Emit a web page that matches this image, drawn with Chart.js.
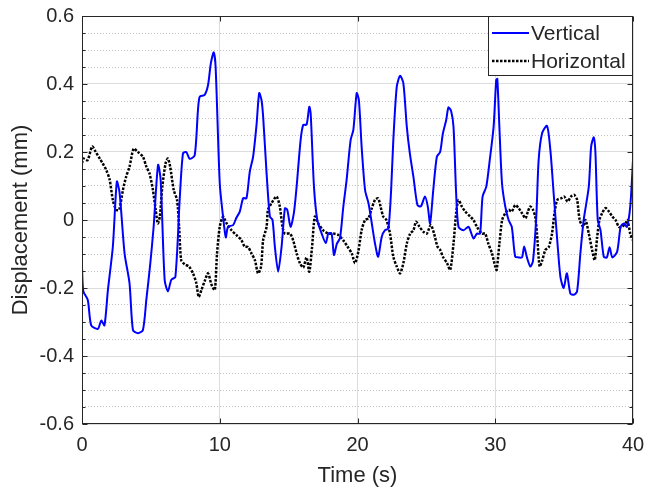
<!DOCTYPE html>
<html>
<head>
<meta charset="utf-8">
<script src="https://cdn.jsdelivr.net/npm/chart.js@4.4.1/dist/chart.umd.min.js"></script>
<style>
  body { margin: 0; background: #fff; }
  #myChart { display: block; }
</style>
</head>
<body>
<canvas id="myChart" width="648" height="492"></canvas>
<script>
//Series values (time in s, displacement in mm)
const vertTime = [0,0.1,0.42,0.67,1.15,1.4,1.63,1.88,2.24,2.53,2.73,3.09,3.45,3.7,4.06,4.42,4.67,4.96,5.2,5.52,5.71,6.0,6.24,6.48,6.78,7.09,7.33,7.57,7.82,8.18,8.42,8.55,8.9,9.15,9.35,9.56,9.7,10.0,10.24,10.44,10.6,10.97,11.2,11.45,11.7,11.94,12.18,12.42,12.67,12.86,13.03,13.15,13.4,13.64,13.83,14.0,14.24,14.49,14.73,14.9,15.14,15.38,15.58,15.87,16.06,16.3,16.5,16.6,16.84,17.08,17.4,17.7,17.88,18.12,18.29,18.5,18.73,18.97,19.21,19.5,19.7,19.94,20.1,20.3,20.55,20.8,21.0,21.27,21.5,21.76,22.0,22.24,22.44,22.6,22.85,23.09,23.33,23.58,23.8,24.06,24.35,24.6,24.9,25.1,25.27,25.5,25.76,26.0,26.2,26.44,26.6,26.8,26.97,27.16,27.33,27.7,28.06,28.42,28.67,28.9,29.08,29.35,29.6,29.88,30.07,30.15,30.3,30.49,30.73,30.97,31.2,31.45,31.7,31.94,32.1,32.3,32.55,32.74,32.98,33.15,33.4,33.76,34.0,34.24,34.5,34.73,34.97,35.2,35.45,35.7,35.94,36.18,36.42,36.79,36.96,37.15,37.27,37.44,37.64,37.88,38.1,38.3,38.5,38.85,39.1,39.33,39.56,39.8,40.0];
const vertDisp = [-0.14,-0.21,-0.235,-0.31,-0.32,-0.296,-0.31,-0.206,-0.078,0.113,0.08,-0.098,-0.186,-0.324,-0.333,-0.324,-0.235,-0.127,-0.02,0.162,0.118,-0.176,-0.21,-0.176,-0.167,0.059,0.196,0.2,0.18,0.19,0.324,0.363,0.368,0.397,0.46,0.493,0.45,0.108,0.01,-0.051,-0.02,-0.015,0.006,0.024,0.064,0.064,0.142,0.186,0.28,0.373,0.353,0.304,0.137,0.01,0.0,-0.078,-0.152,-0.078,0.034,0.03,-0.02,0.02,0.098,0.235,0.28,0.28,0.333,0.314,0.098,0.0,-0.04,-0.068,-0.04,-0.04,-0.103,-0.07,-0.053,0.039,0.118,0.235,0.265,0.373,0.353,0.216,0.088,0.049,0.0,-0.069,-0.108,-0.049,-0.03,-0.025,0.088,0.235,0.392,0.424,0.402,0.274,0.196,0.127,0.044,0.04,0.069,0.04,-0.01,0.088,0.186,0.2,0.255,0.294,0.331,0.32,0.274,0.079,-0.02,-0.03,-0.02,-0.054,-0.04,-0.04,0.069,0.098,0.176,0.274,0.412,0.415,0.274,0.108,0.039,0.0,-0.02,-0.108,-0.11,-0.11,-0.078,-0.11,-0.137,-0.12,0.01,0.176,0.255,0.277,0.206,0.078,-0.059,-0.167,-0.2,-0.157,-0.216,-0.22,-0.21,-0.098,0.0,0.098,0.216,0.243,0.2,0.0,-0.03,-0.108,-0.11,-0.08,-0.11,-0.093,-0.02,-0.01,-0.02,0.04,0.176];

const horizTime = [0,0.1,0.4,0.74,1.0,1.3,1.5,1.76,2.0,2.24,2.48,2.7,2.97,3.2,3.45,3.75,4.06,4.42,4.67,4.9,5.15,5.35,5.5,5.65,5.83,6.07,6.24,6.4,6.66,6.9,7.05,7.2,7.45,7.77,8.06,8.3,8.47,8.67,8.9,9.15,9.4,9.64,9.8,10.0,10.24,10.5,10.85,11.2,11.57,11.8,12.06,12.3,12.55,12.78,13.0,13.15,13.4,13.5,13.75,14.12,14.36,14.55,14.73,15.1,15.33,15.58,15.82,16.06,16.3,16.5,16.7,16.9,17.15,17.5,17.88,18.24,18.6,18.97,19.27,19.58,19.82,20.06,20.3,20.55,20.8,21.0,21.27,21.5,21.67,21.87,22.1,22.36,22.6,22.85,23.09,23.33,23.58,23.82,24.06,24.25,24.5,24.79,25.03,25.32,25.56,25.8,26.0,26.2,26.5,26.73,26.97,27.16,27.33,27.57,27.82,28.18,28.42,28.67,29.03,29.27,29.5,29.76,30.0,30.1,30.3,30.5,30.73,30.97,31.2,31.45,31.7,31.94,32.2,32.37,32.55,32.74,32.9,33.03,33.22,33.4,33.64,33.88,34.12,34.3,34.5,34.8,35.0,35.25,35.5,35.73,35.94,36.13,36.38,36.55,36.79,37.03,37.22,37.4,37.56,37.76,38.0,38.25,38.5,38.73,38.97,39.2,39.45,39.6,39.8,40.0];
const horizDisp = [0.167,0.181,0.176,0.216,0.2,0.18,0.167,0.147,0.12,0.059,0.03,0.03,0.088,0.127,0.157,0.21,0.2,0.186,0.157,0.137,0.088,0.03,-0.01,0.01,0.098,0.167,0.181,0.157,0.088,0.059,-0.02,-0.118,-0.13,-0.137,-0.157,-0.186,-0.226,-0.206,-0.18,-0.157,-0.19,-0.206,-0.1,-0.02,0.01,-0.01,-0.03,-0.044,-0.059,-0.078,-0.08,-0.098,-0.118,-0.157,-0.137,-0.059,-0.02,0.03,0.049,0.069,0.04,-0.02,-0.04,-0.04,-0.06,-0.098,-0.127,-0.14,-0.11,-0.152,-0.08,0.01,-0.01,-0.03,-0.04,-0.04,-0.044,-0.06,-0.078,-0.098,-0.127,-0.093,-0.03,0.0,0.005,0.03,0.059,0.064,0.04,0.01,0.0,-0.04,-0.108,-0.137,-0.157,-0.127,-0.069,-0.04,-0.03,-0.005,-0.02,-0.035,-0.04,-0.015,-0.04,-0.078,-0.088,-0.108,-0.127,-0.147,-0.069,0.02,0.059,0.04,0.025,0.01,0.0,-0.02,-0.04,-0.04,-0.07,-0.098,-0.137,-0.147,-0.07,0.0,0.02,0.03,0.025,0.044,0.035,0.02,0.005,0.025,0.04,0.03,0.01,-0.04,-0.137,-0.12,-0.088,-0.08,-0.04,0.02,0.059,0.064,0.069,0.054,0.069,0.074,0.06,0.0,-0.02,0.0,-0.04,-0.088,-0.118,-0.05,0.0,0.02,0.035,0.025,0.01,0.0,-0.02,-0.02,-0.01,0.0,-0.04,-0.06];

//Axis settings
const xTicks = [0, 10, 20, 30, 40];
const yTicks = [-0.6, -0.4, -0.2, 0, 0.2, 0.4, 0.6];
const seriesNames = ["Vertical", "Horizontal"];

const axisColor = "#262626";
const fontFamily = "'Liberation Sans', Arial, Helvetica, sans-serif";

const toPoints = function(xs, ys) {
  const pts = [];
  for (let i = 0; i < xs.length; i++) {
    pts.push({x: xs[i], y: ys[i]});
  }
  return pts;
};

const isMajor = function(v) {
  return Math.abs(v / 0.2 - Math.round(v / 0.2)) < 1e-6;
};

//Box round the plot area, inward ticks and the MATLAB style legend inside it
const boxPlugin = {
  id: "boxPlugin",
  afterDraw(chart) {
    const {ctx, chartArea} = chart;
    const a = chartArea;
    const L = Math.round(a.left) + 0.5, R = Math.round(a.right) - 0.5;
    const T = Math.round(a.top) + 0.5, B = Math.round(a.bottom) - 0.5;
    ctx.save();
    ctx.strokeStyle = axisColor;
    ctx.lineWidth = 1;
    ctx.strokeRect(L, T, R - L, B - T);

    //inward tick marks
    ctx.beginPath();
    chart.scales.yMinor.ticks.forEach(t => {
      const py = Math.round(chart.scales.yMinor.getPixelForValue(t.value)) + 0.5;
      const len = isMajor(t.value) ? 5 : 3;
      ctx.moveTo(L, py); ctx.lineTo(L + len, py);
      ctx.moveTo(R, py); ctx.lineTo(R - len, py);
    });
    chart.scales.x.ticks.forEach(t => {
      const px = Math.round(chart.scales.x.getPixelForValue(t.value)) + 0.5;
      ctx.moveTo(px, B); ctx.lineTo(px, B - 5);
      ctx.moveTo(px, T); ctx.lineTo(px, T + 5);
    });
    ctx.stroke();

    //legend
    const lx = 488, ly = Math.round(a.top), lw = Math.round(a.right) - lx - 1, lh = 59;
    ctx.fillStyle = "#fff";
    ctx.fillRect(lx, ly, lw, lh);
    ctx.strokeRect(lx + 0.5, ly + 0.5, lw, lh);
    ctx.font = "21px " + fontFamily;
    ctx.textBaseline = "middle";
    chart.data.datasets.forEach((ds, i) => {
      const yy = ly + 17 + i * 28;
      ctx.beginPath();
      ctx.strokeStyle = ds.borderColor;
      ctx.lineWidth = ds.borderWidth;
      ctx.setLineDash(ds.borderDash || []);
      ctx.moveTo(lx + 4, yy);
      ctx.lineTo(lx + 41, yy);
      ctx.stroke();
      ctx.setLineDash([]);
      ctx.fillStyle = axisColor;
      ctx.fillText(ds.label, lx + 43, yy + 1);
    });
    ctx.restore();
  }
};

const ctx = document.getElementById("myChart");
const myChart = new Chart(ctx, {
  type: "line",
  data: {
    datasets: [
      {
        label: seriesNames[0],
        data: toPoints(vertTime, vertDisp),
        borderColor: "#0000ff",
        borderWidth: 2,
        pointRadius: 0,
        fill: false,
        tension: 0.25
      },
      {
        label: seriesNames[1],
        data: toPoints(horizTime, horizDisp),
        borderColor: "#000000",
        borderWidth: 2.5,
        borderDash: [2.5, 1.5],
        pointRadius: 0,
        fill: false,
        tension: 0.25
      }
    ]
  },
  options: {
    responsive: false,
    animation: false,
    layout: { padding: { top: 16, right: 15, left: 0, bottom: 0 } },
    plugins: {
      legend: { display: false },
      tooltip: { enabled: false }
    },
    scales: {
      x: {
        type: "linear",
        min: 0,
        max: 40,
        afterBuildTicks: (scale) => { scale.ticks = xTicks.map(v => ({value: v})); },
        afterFit: (scale) => { scale.height = 68; scale.paddingLeft = 0; scale.paddingRight = 0; },
        ticks: { color: axisColor, font: { size: 20, family: fontFamily }, padding: 9, maxRotation: 0 },
        grid: { color: "#dcdcdc", lineWidth: 1, drawTicks: false },
        border: { display: false },
        title: {
          display: true,
          text: "Time (s)",
          color: axisColor,
          font: { size: 22, family: fontFamily },
          padding: { top: 0, bottom: 3 }
        }
      },
      y: {
        min: -0.6,
        max: 0.6,
        afterBuildTicks: (scale) => { scale.ticks = yTicks.map(v => ({value: v})); },
        afterFit: (scale) => { scale.width = 82; scale.paddingTop = 0; scale.paddingBottom = 0; },
        ticks: {
          color: axisColor,
          font: { size: 20, family: fontFamily },
          padding: 8,
          callback: (v) => (Math.abs(v) < 1e-9 ? "0" : v.toFixed(1))
        },
        grid: { color: "#dcdcdc", lineWidth: 1, drawTicks: false },
        border: { display: false },
        title: {
          display: true,
          text: "Displacement (mm)",
          color: axisColor,
          font: { size: 22, family: fontFamily },
          padding: { top: 8, bottom: 0 }
        }
      },
      yMinor: {
        position: "right",
        min: -0.6,
        max: 0.6,
        afterFit: (scale) => { scale.width = 0; scale.paddingTop = 0; scale.paddingBottom = 0; },
        ticks: { display: false, stepSize: 0.05 },
        grid: {
          drawTicks: false,
          lineWidth: 1,
          color: (c) => (c.tick && isMajor(c.tick.value) ? "rgba(0,0,0,0)" : "#c4c4c4")
        },
        border: { display: false, dash: [1, 2] }
      }
    }
  },
  plugins: [boxPlugin]
});
</script>
</body>
</html>
